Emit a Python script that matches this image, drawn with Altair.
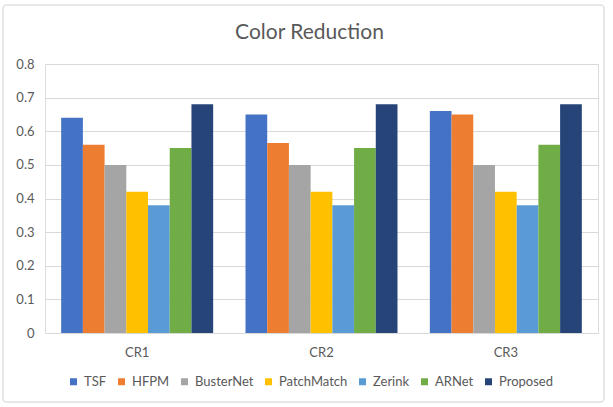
import altair as alt
import pandas as pd

groups = ["CR1", "CR2", "CR3"]
methods = ["TSF", "HFPM", "BusterNet", "PatchMatch", "Zerink", "ARNet", "Proposed"]
colors = ["#4472C4", "#ED7D31", "#A5A5A5", "#FFC000", "#5B9BD5", "#70AD47", "#264478"]
cr1 = [0.64, 0.56, 0.50, 0.42, 0.38, 0.55, 0.68]
cr2 = [0.65, 0.565, 0.50, 0.42, 0.38, 0.55, 0.68]
cr3 = [0.66, 0.65, 0.50, 0.42, 0.38, 0.56, 0.68]
y_ticks = [0, 0.1, 0.2, 0.3, 0.4, 0.5, 0.6, 0.7, 0.8]

rows = []
for g, vals in zip(groups, [cr1, cr2, cr3]):
    for m, v in zip(methods, vals):
        rows.append({"group": g, "method": m, "value": v})
df = pd.DataFrame(rows)

FONT = "Lato"
TXT = "#595959"

bars = alt.Chart(df).mark_bar().encode(
    x=alt.X("group:N", sort=groups, title=None,
            scale=alt.Scale(paddingInner=0, paddingOuter=0),
            axis=alt.Axis(labelAngle=0, ticks=False, domainColor="#d9d9d9",
                          labelPadding=13, labelFontSize=13, labelColor=TXT,
                          labelFont=FONT)),
    xOffset=alt.XOffset("method:N", sort=methods,
                        scale=alt.Scale(paddingInner=0, paddingOuter=0.745)),
    y=alt.Y("value:Q", title=None,
            scale=alt.Scale(domain=[0, 0.8], nice=False),
            axis=alt.Axis(values=y_ticks, format=".1~f", ticks=False, domain=False,
                          gridColor="#d9d9d9", labelPadding=11, labelFontSize=13,
                          labelColor=TXT, labelFont=FONT)),
    color=alt.Color("method:N", sort=methods,
                    scale=alt.Scale(domain=methods, range=colors),
                    legend=alt.Legend(title=None, orient="none", direction="horizontal",
                                      legendX=22, legendY=311, symbolType="square",
                                      symbolSize=49, symbolStrokeWidth=0,
                                      labelFontSize=13, labelColor=TXT, labelFont=FONT,
                                      columnPadding=8, padding=0)),
)

border = alt.Chart(alt.Data(values=[{"a": 1}])).mark_rect(
    fill=None, stroke="#d0d0d0", strokeWidth=1, cornerRadius=3
).encode(
    x=alt.value(-42), x2=alt.value(559), y=alt.value(-59), y2=alt.value(338)
)

chart = alt.layer(border, bars).properties(
    width=553, height=269,
    title=alt.Title("Color Reduction", fontSize=21, font=FONT, color=TXT,
                    fontWeight="normal", anchor="middle", frame="group",
                    dx=-12, offset=-38),
    autosize=alt.AutoSizeParams(type="none"),
    padding={"left": 45, "top": 64, "right": 15, "bottom": 74},
).configure_view(stroke=None).configure(background="white")

chart.save("out.html", embed_options={"renderer": "svg", "actions": False})
